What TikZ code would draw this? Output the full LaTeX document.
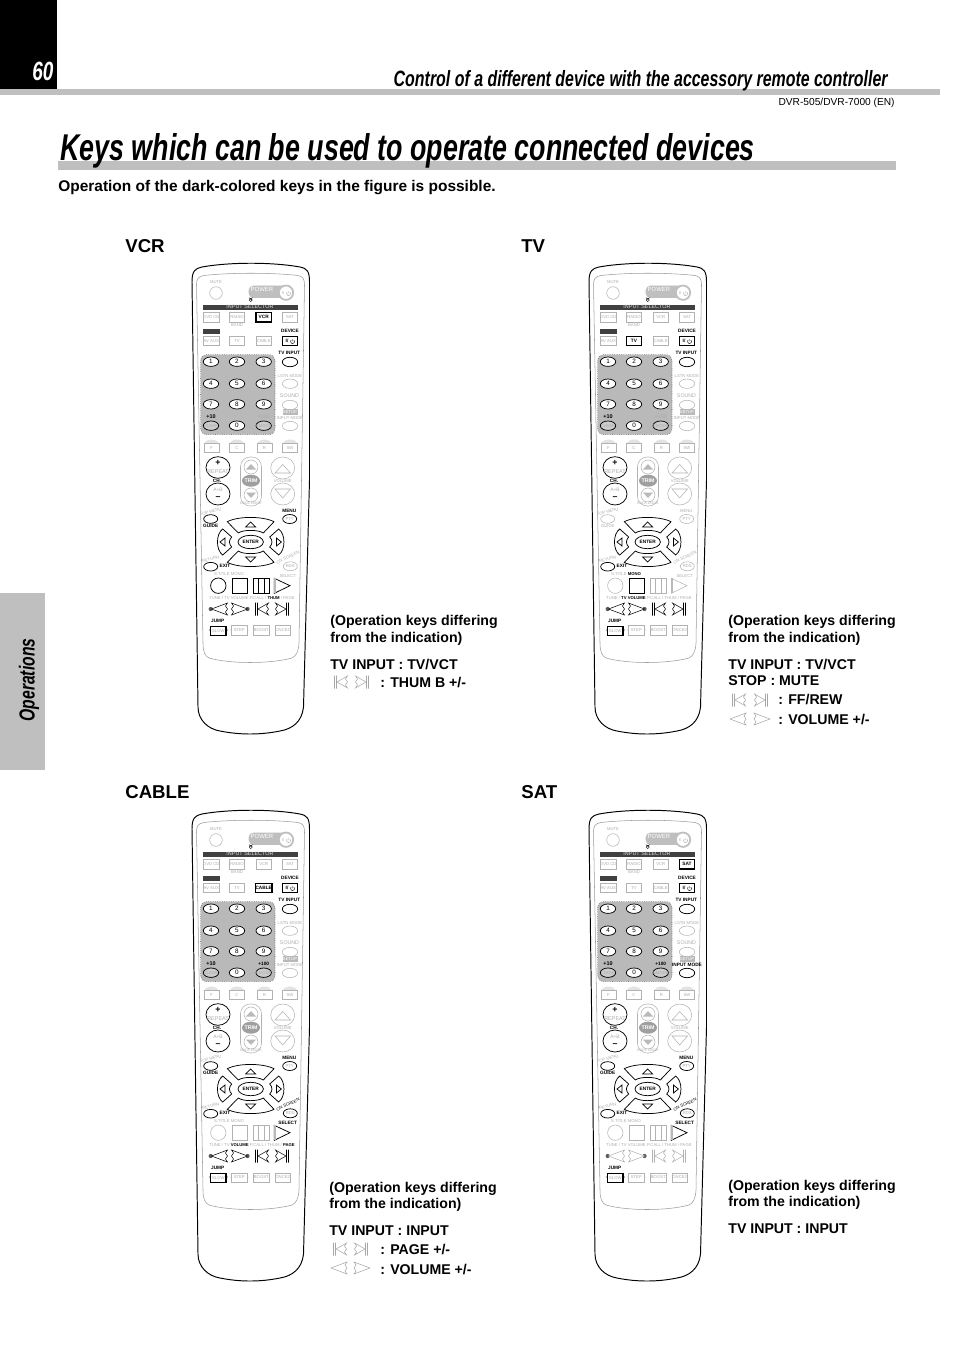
\documentclass[tikz,border=0pt]{standalone}
\usepackage{fontspec}
\setmainfont{Liberation Sans}
\newfontfamily\condfont[FakeStretch=0.72]{Liberation Sans}
\newcommand\lab{\fontsize{2.4}{3}\selectfont}
\newcommand\labb{\fontsize{2.7}{3}\selectfont\bfseries}
\newcommand\on[1]{{\color{black}\bfseries #1}}

\tikzset{
	lab/.style={font=\lab,text=gray!65,inner sep=0},
	darklab/.style={font=\labb,text=black,inner sep=0},
	dark/.style={draw=black,text=black,font=\labb,line width=0.42pt},
	thickdark/.style={draw=black,text=black,font=\labb,line width=0.8pt},
	pkey/.style={draw=gray!60,line width=0.3pt,fill=white},
	bkey/.style={draw,pkey,text=gray!65,font=\lab,inner sep=0,minimum width=8.6pt,minimum height=5.4pt},
	okey/.style={pkey,text=gray!65,font=\lab},
	heading/.style={font=\fontsize{10.6}{12}\selectfont\bfseries,inner sep=0,anchor=west},
	note/.style={font=\fontsize{8.05}{10}\selectfont\bfseries,inner sep=0,anchor=west},
	% keys which change from one remote to the next
	kvcr/.style={},ktv/.style={},kcable/.style={},ksat/.style={},
	kguide/.style={},kmenu/.style={},kscreen/.style={},ksel/.style={},
	kcirc/.style={},ksq/.style={},kbars/.style={},ktune/.style={},
	kimode/.style={},khundred/.style={}
}

\def\oval[#1](#2,#3)#4{\draw[okey,#1] (#2,#3) circle[x radius=7.7,y radius=4.7] node[inner sep=0] {#4};}
\def\pwr[#1](#2,#3){\draw[#1,line width=0.25pt] (#2+1.3,#3-1.5) arc (-50:230:2) (#2,#3-2.6) -- (#2,#3-0.2);}
\def\prevkey[#1](#2,#3){\draw[#1,fill=white,line width=0.3pt] (#2+7.5,#3-6) -- (#2-3,#3) -- (#2+7.5,#3+6) -- (#2+5.5,#3+3) -- (#2+7.5,#3) -- (#2+5.5,#3-3) -- cycle (#2-5.5,#3-6.5) -- (#2-5.5,#3+6.5) (#2-3.5,#3-6.5) -- (#2-3.5,#3+6.5);}
\def\nextkey[#1](#2,#3){\draw[#1,fill=white,line width=0.3pt] (#2-7.5,#3-6) -- (#2+3,#3) -- (#2-7.5,#3+6) -- (#2-5.5,#3+3) -- (#2-7.5,#3) -- (#2-5.5,#3-3) -- cycle (#2+5.5,#3-6.5) -- (#2+5.5,#3+6.5) (#2+3.5,#3-6.5) -- (#2+3.5,#3+6.5);}
\def\backkey[#1](#2,#3){\draw[#1,fill=white,line width=0.3pt] (#2+8,#3-6) -- (#2-8,#3) -- (#2+8,#3+6) -- (#2+6,#3+3) -- (#2+8,#3) -- (#2+6,#3-3) -- cycle;}
\def\forwkey[#1](#2,#3){\draw[#1,fill=white,line width=0.3pt] (#2-8,#3-6) -- (#2+8,#3) -- (#2-8,#3+6) -- (#2-6,#3+3) -- (#2-8,#3) -- (#2-6,#3-3) -- cycle;}

% #1 x, #2 y, #3 dark keys, #4 label over the round keys, #5 and #6 labels over the jump keys
\newcommand\remote[6]{
	\begin{scope}[shift={(#1,#2)},#3]
		\draw[line width=0.55pt] (12,22) .. controls (12,11) and (15,8.5) .. (22,7) .. controls (50,2) and (92,2) .. (120,7) .. controls (127,8.5) and (129.5,11) .. (129.5,22) -- (129.5,220) -- (123.5,447) .. controls (122,462) and (112,469) .. (100,471) .. controls (80,475) and (60,475) .. (40,471) .. controls (28,469) and (18,460) .. (18,447) -- cycle;
		\draw[line width=0.3pt,draw=gray!80] (16.5,25) .. controls (16.5,19) and (18,16.5) .. (24,15.5) .. controls (50,12.5) and (92,12.5) .. (118,15.5) .. controls (123,16.5) and (124.5,19) .. (124.5,25) -- (119,383) .. controls (118.5,392) and (116,396) .. (112,398) .. controls (90,404) and (50,404) .. (29,398) .. controls (25,396) and (23,392) .. (23,383) -- cycle;
		
		\node[lab] at (36,21.7) {MUTE};
		\draw[okey] (36,33) circle (6.3);
		\draw[fill=gray!50,draw=gray!50,rounded corners=2.5pt] (69,26) rectangle (110,37.5);
		\node[lab,text=white,font=\fontsize{3.4}{4}\selectfont] at (82,29.5) {POWER};
		\draw[pkey,draw=gray!50,line width=1pt] (106,32.7) circle (7.2);
		\node[lab] at (103,33) {I/};
		\pwr[gray!70](108.5,33.5)
		\draw[line width=0.25pt] (70.7,40) circle (1.6) (69,37.6) arc (180:0:1.7);
		
		\draw[fill=black!75,draw=none] (23,45.3) rectangle (118,50);
		\node[lab,text=gray!25,font=\fontsize{3.1}{4}\selectfont] at (70,47) {INPUT SELECTOR};
		
		\node[bkey] at (31.3,57.3) {DVD CD};
		\node[bkey] at (57,57.3) {RADIO};
		\node[bkey,kvcr] at (83.7,57.3) {VCR};
		\node[bkey,ksat] at (110,57.3) {SAT};
		\node[lab] at (57,65.3) {BAND};
		\draw[fill=black!75,draw=none] (23.3,69) rectangle (40,73.7);
		\node[darklab] at (110,71) {DEVICE};
		\node[bkey] at (31.3,81) {AV AUX};
		\node[bkey,ktv] at (57,81) {TV};
		\node[bkey,kcable] at (83.7,81) {CABLE};
		\node[bkey,thickdark] at (110,81) {};
		\node[darklab] at (107,81) {I/};
		\pwr[black](112.5,81.5)
		\node[darklab] at (109.3,93.3) {TV INPUT};
		
		\draw[fill=gray!55,draw=black!70,densely dotted,line width=0.3pt,rounded corners=3pt] (20.7,94.7) rectangle (95,174.7);
		\foreach \col/\row/\digit in {31/101.7/1,57/101.7/2,83.7/101.7/3,31/123.7/4,57/123.7/5,83.7/123.7/6,31/144.3/7,57/144.3/8,83.7/144.3/9,57/165.7/0}{
			\oval[dark,font=\fontsize{3.6}{4}\selectfont](\col,\row){\digit}
		}
		\node[darklab,font=\fontsize{3.1}{4}\selectfont\bfseries] at (31,157) {+10};
		\node[lab,font=\fontsize{3.1}{4}\selectfont,khundred,draw=none] at (83.7,157) {+100};
		\draw[dark,fill=gray!40] (31,165.7) circle[x radius=7.7,y radius=4.7];
		\node[lab] at (31,165.7) {CLEAR};
		\draw[dark,fill=gray!40] (83.7,165.7) circle[x radius=7.7,y radius=4.7];
		\node[lab] at (83.7,165.7) {SMODE};
		
		\oval[dark](110,102){}
		\node[lab] at (110,116) {LSTN MODE};
		\oval[](110,123.7){}
		\node[lab,font=\fontsize{3}{4}\selectfont] at (109.5,136) {SOUND};
		\oval[](110,145){}
		\draw[fill=gray!55,draw=none] (102.5,148.5) rectangle (117.5,155);
		\node[lab,text=white] at (110,152) {SETUP};
		\node[lab,kimode,draw=none] at (110,157.7) {INPUT MODE};
		\oval[kimode](110,166){}
		
		\foreach \col/\name in {31.5/F,57/C,84.5/R,110/SW}{
			\fill[gray!22] (\col,184) circle[x radius=7,y radius=4.5];
			\node[bkey] at (\col,187.7) {\name};
		}
		
		\draw[dark] (38,207.5) circle[x radius=12,y radius=10.8];
		\node[darklab,font=\fontsize{5}{5}\selectfont\bfseries] at (38,203) {+};
		\node[lab,font=\fontsize{3.1}{4}\selectfont] at (38,211.5) {REPEAT};
		\node[darklab] at (37,220.7) {CH.};
		\draw[dark] (38,234) circle[x radius=12,y radius=11];
		\node[lab,font=\fontsize{2.8}{4}\selectfont] at (38,230) {A+B};
		\node[darklab,font=\fontsize{5}{5}\selectfont\bfseries] at (38,238) {--};
		
		\draw[pkey,rounded corners=5.5pt] (60.5,197) rectangle (81.5,246);
		\draw[pkey] (71,207) circle (7) (71,235) circle (7);
		\fill[gray!55] (66,209.5) -- (76,209.5) -- (71,204) -- cycle;
		\fill[gray!55] (66,232.5) -- (76,232.5) -- (71,238) -- cycle;
		\fill[gray!75] (71,220.7) circle[x radius=9,y radius=6];
		\node[lab,text=white,font=\fontsize{3}{4}\selectfont\bfseries] at (71,220.7) {TRIM};
		\node[lab,font=\fontsize{2}{3}\selectfont] at (71,243.5) {BACK DOOR};
		
		\draw[pkey] (102.7,208) circle[x radius=12,y radius=11];
		\draw[pkey] (95,213) -- (110.5,213) -- (102.7,204.5) -- cycle;
		\node[lab] at (102.7,220.7) {VOLUME};
		\draw[pkey] (102.7,234) circle[x radius=12,y radius=11];
		\draw[pkey] (95,229) -- (110.5,229) -- (102.7,238) -- cycle;
		
		\node[lab,rotate=15] at (30.7,251.7) {TOP MENU};
		\draw[okey,kguide] (30.7,259) circle[x radius=7,y radius=4.3];
		\node[lab,kguide,draw=none] at (30.7,266) {GUIDE};
		\node[lab,kmenu,draw=none] at (109.3,250.7) {MENU};
		\draw[okey,kmenu] (109.7,259) circle[x radius=7,y radius=4.5];
		\node[lab] at (109.7,259) {PTY};
		
		\begin{scope}[shift={(70.7,282)}]
			\foreach \s in {1,-1}{
				\draw[dark,fill=white,yscale=\s] (-23.4,-20.3) .. controls (-12.7,-26) and (12.3,-26) .. (23.3,-20.3) -- (12.6,-9) .. controls (7.3,-12.5) and (-7.7,-12.5) .. (-12.4,-9) -- cycle (-5,-15) -- (5,-15) -- (0,-20) -- cycle;
				\draw[dark,fill=white,xscale=\s] (-28,-13) .. controls (-35,-8) and (-35,8) .. (-28,13) -- (-19,5) .. controls (-22,2) and (-22,-2) .. (-19,-5) -- cycle (-25.7,-4) -- (-25.7,4) -- (-30.7,0) -- cycle;
			}
			\draw[dark,fill=white] (0,0) circle[x radius=12.7,y radius=6.7];
			\node[darklab] at (0,0) {ENTER};
		\end{scope}
		
		\node[lab,rotate=15] at (30.7,299.3) {RETURN};
		\draw[okey,dark] (30.7,306.7) circle[x radius=7,y radius=4.3];
		\node[darklab] at (45,306) {EXIT};
		\node[lab,rotate=25,kscreen,draw=none,font=\lab] at (108,297.5) {ON SCREEN};
		\draw[okey,kscreen] (110.3,306.3) circle[x radius=7,y radius=4.5];
		\node[lab] at (110.3,306.3) {RDS};
		
		\node[lab] at (49,314.3) {#4};
		\node[lab,kscreen,draw=none] at (107.7,316) {SELECT};
		\draw[okey,kcirc] (38.3,325.7) circle (7.7);
		\draw[okey,ksq] (52.3,318.3) rectangle (67.7,333);
		\draw[okey,kbars] (73.3,318.3) rectangle (89.3,333) (78.5,318.3) -- (78.5,333) (84,318.3) -- (84,333);
		\draw[okey,ksel] (94.3,318.3) -- (94.3,333.3) -- (110,325.7) -- cycle;
		\fill[gray!55] (94.3,318.3) rectangle (95.8,333.3);
		
		\node[lab] at (49,338) {#5};
		\node[lab] at (92.3,338) {#6};
		\fill[black!65] (30.7,349) circle (2.1) (67.5,349) circle (2.1);
		\backkey[okey,ktune](39.5,349)
		\forwkey[okey,ktune](59.5,349)
		\prevkey[okey,ktune](81,349)
		\nextkey[okey,ktune](103,349)
		
		\node[darklab] at (37.7,361) {JUMP};
		\fill[gray!60] (30,370) circle (1.3) (47,370) circle (1.3) (51.3,370) circle (1) (67.5,370) circle (1);
		\node[bkey,thickdark,font=\lab,text=gray!65] at (38.3,371) {SLOW};
		\node[bkey] at (59.3,370.5) {STEP};
		\node[bkey] at (81.3,370.5) {BOOST};
		\node[bkey] at (102.7,370.5) {ONCE2};
	\end{scope}
}

\begin{document}
\begin{tikzpicture}[x=0.02cm,y=-0.02cm]
	\useasboundingbox (0,0) rectangle (954,1351);
	
	\fill[black] (0,0) rectangle (57,89);
	\fill[gray!50] (0,89) rectangle (940,95);
	\node[inner sep=0,text=white,font=\condfont\fontsize{15}{15}\selectfont\bfseries\itshape] (pageno) at (43,71) {60};
	\node[inner sep=0,anchor=base east,font=\condfont\fontsize{12.6}{14}\selectfont\bfseries\itshape] (chapter) at (888,86.5) {Control of a different device with the accessory remote controller};
	\node[inner sep=0,anchor=east,font=\fontsize{5.8}{7}\selectfont] (model) at (895,103) {DVR-505/DVR-7000 (EN)};
	
	\fill[gray!50] (58,161) rectangle (896,170);
	\node[inner sep=0,anchor=base west,font=\condfont\fontsize{21.2}{24}\selectfont\bfseries\itshape] (title) at (60,160.5) {Keys which can be used to operate connected devices};
	\node[inner sep=0,anchor=west,font=\fontsize{8.8}{10}\selectfont\bfseries] (subtitle) at (58,188) {Operation of the dark-colored keys in the figure is possible.};
	
	\fill[gray!50] (0,593) rectangle (45,770);
	\node[inner sep=0,rotate=90,font=\condfont\fontsize{12.4}{14}\selectfont\bfseries\itshape] (tab) at (29,680) {Operations};
	
	%%%%% VCR %%%%%
	\node[heading] (vcr) at (125,246) {VCR};
	\remote{180}{260}{kvcr/.style={thickdark},kguide/.style={dark},kmenu/.style={dark},kcirc/.style={dark},ksq/.style={dark},kbars/.style={dark},ksel/.style={dark},ktune/.style={dark}}{S.TITLE MONO}{TUNE / TV VOLUME}{P.CALL / \on{THUM} / PAGE}
	\node[note] (vcra) at (330,622) {(Operation keys differing};
	\node[note] (vcrb) at (330,639) {from the indication)};
	\node[note] (vcrc) at (330,665) {TV INPUT : TV/VCT};
	\prevkey[gray!70](340,682)
	\nextkey[gray!70](363,682)
	\node[note] (vcrd) at (380,683) {: THUM B +/-};
	
	%%%%% TV %%%%%
	\node[heading] (tv) at (521,246) {TV};
	\remote{577}{260}{ktv/.style={thickdark},ksq/.style={dark},ktune/.style={dark}}{S.TITLE \on{MONO}}{TUNE / \on{TV VOLUME}}{P.CALL / THUM / PAGE}
	\node[note] (tva) at (728,622) {(Operation keys differing};
	\node[note] (tvb) at (728,639) {from the indication)};
	\node[note] (tvc) at (728,665) {TV INPUT : TV/VCT};
	\node[note] (tvd) at (728,681) {STOP : MUTE};
	\prevkey[gray!70](738,700)
	\nextkey[gray!70](762,700)
	\node[note] (tve) at (778,700) {: FF/REW};
	\backkey[gray!70](738,719)
	\forwkey[gray!70](762,719)
	\node[note] (tvf) at (778,720) {: VOLUME +/-};
	
	%%%%% CABLE %%%%%
	\node[heading] (cable) at (125,792) {CABLE};
	\remote{180}{807}{kcable/.style={thickdark},kguide/.style={dark},kmenu/.style={dark},kscreen/.style={dark},ksel/.style={dark},ktune/.style={dark},khundred/.style={dark}}{S.TITLE MONO}{TUNE / TV \on{VOLUME}}{P.CALL / THUM / \on{PAGE}}
	\node[note] (cablea) at (329,1189) {(Operation keys differing};
	\node[note] (cableb) at (329,1205) {from the indication)};
	\node[note] (cablec) at (329,1231) {TV INPUT : INPUT};
	\prevkey[gray!70](339,1249)
	\nextkey[gray!70](362,1249)
	\node[note] (cabled) at (380,1250) {: PAGE +/-};
	\backkey[gray!70](339,1268)
	\forwkey[gray!70](362,1268)
	\node[note] (cablee) at (380,1269) {: VOLUME +/-};
	
	%%%%% SAT %%%%%
	\node[heading] (sat) at (521,792) {SAT};
	\remote{577}{807}{ksat/.style={thickdark},kguide/.style={dark},kmenu/.style={dark},kscreen/.style={dark},ksel/.style={dark},kimode/.style={dark},khundred/.style={dark}}{S.TITLE MONO}{TUNE / TV VOLUME}{P.CALL / THUM / PAGE}
	\node[note] (sata) at (728,1187) {(Operation keys differing};
	\node[note] (satb) at (728,1203) {from the indication)};
	\node[note] (satc) at (728,1229) {TV INPUT : INPUT};
\end{tikzpicture}
\end{document}
